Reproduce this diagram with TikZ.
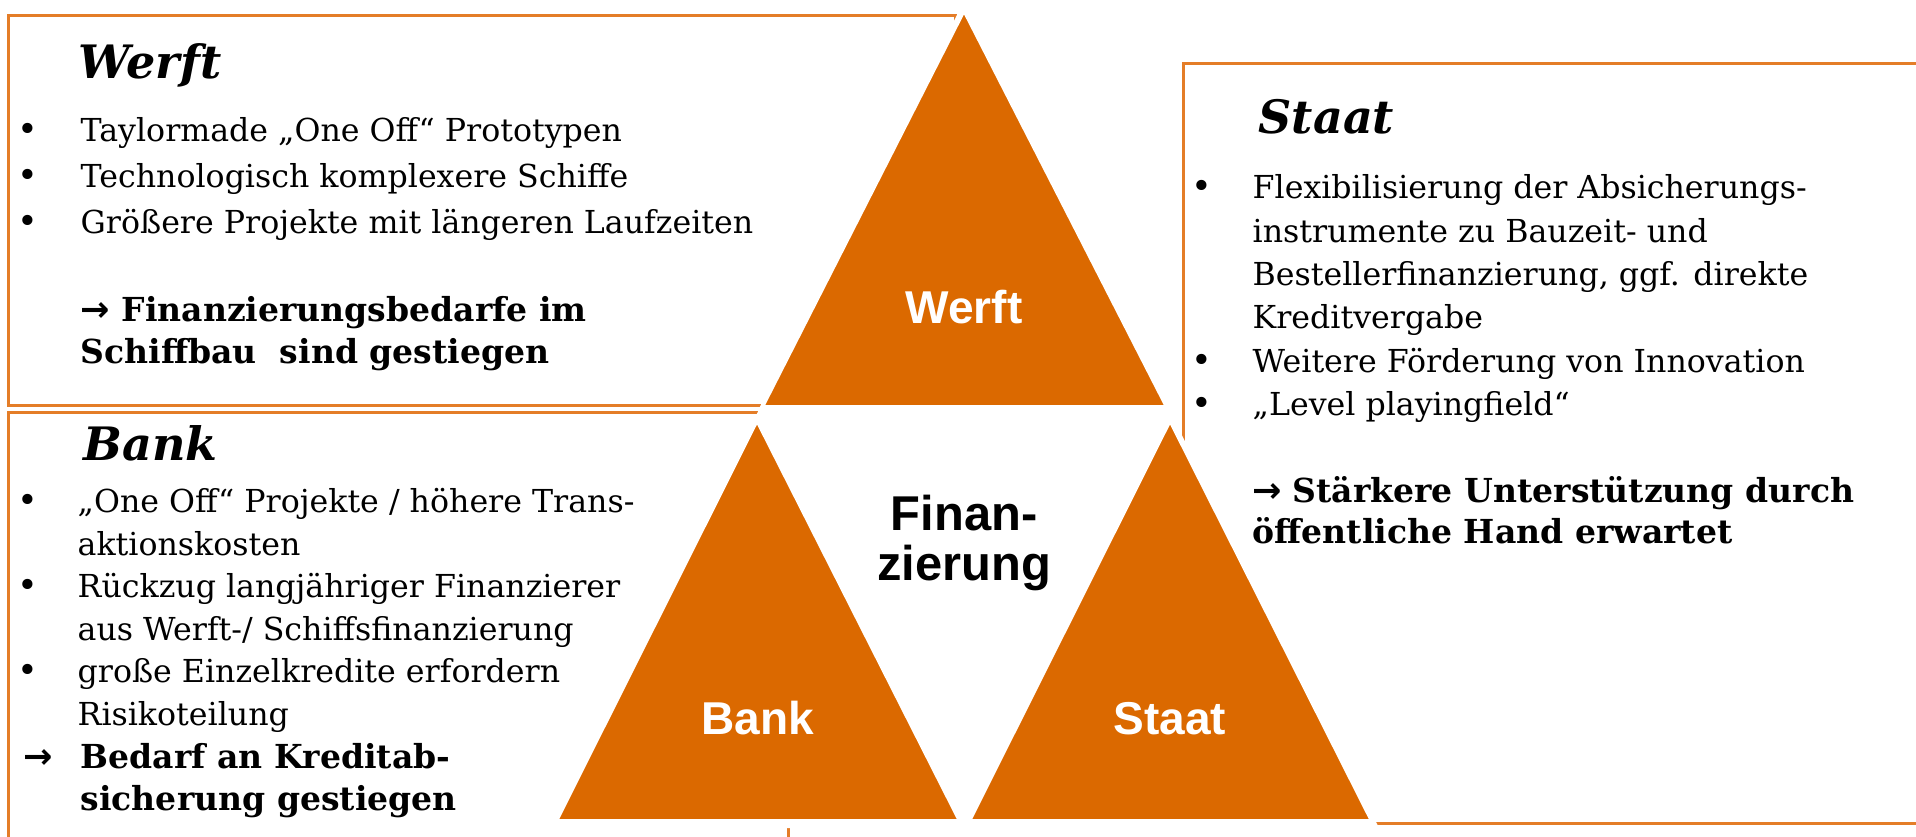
\documentclass[tikz,border=0pt]{standalone}
\usepackage{fontspec}
\setmainfont{DejaVu Serif}
\setsansfont{Liberation Sans}
\newfontfamily\arrowfont{DejaVu Sans}
\usetikzlibrary{positioning}

\definecolor{dockorange}{RGB}{219,105,0}
\definecolor{boxline}{RGB}{228,125,40}

\newcommand{\pfeil}{{\arrowfont\bfseries\fontsize{10}{12}\selectfont →}}

\tikzset{
  frame/.style={draw=boxline, line width=0.3mm},
  wedge/.style={fill=dockorange, draw=white, line width=0.4mm},
  heading/.style={anchor=base west, inner sep=0pt, font=\fontsize{13.1}{15}\selectfont\bfseries\itshape},
  txt/.style={anchor=base west, inner sep=0pt, font=\fontsize{9.0}{12}\selectfont},
  boldtxt/.style={anchor=base west, inner sep=0pt, font=\fontsize{9.4}{12}\selectfont\bfseries},
  dot/.style={anchor=base, inner sep=0pt, font=\fontsize{10}{12}\selectfont},
  wedgetext/.style={anchor=base, inner sep=0pt, text=white, font=\sffamily\bfseries\fontsize{13.1}{14}\selectfont}
}

\begin{document}
\begin{tikzpicture}[x=0.1mm, y=-0.1mm]
\useasboundingbox (0,0) rectangle (1916,836);
\clip (0,0) rectangle (1916,836);

% frames of the three text panels
\draw[frame] (8,15) rectangle (955,405);
\draw[frame] (8,412) rectangle (788,880);
\draw[frame] (1183,63) rectangle (1960,823);

% white ground of the pyramid hides the frame edges
\fill[white] (964,1) -- (549,828) -- (1379,828) -- cycle;

% the three triangles
\draw[wedge] (964,10) -- (762,407) -- (1167,407) -- cycle;
\draw[wedge] (757,420) -- (556,821) -- (960,821) -- cycle;
\draw[wedge] (1170,420) -- (969,821) -- (1372,821) -- cycle;

\node[wedgetext] (tw) at (964,323) {Werft};
\node[wedgetext] (tb) at (758,734) {Bank};
\node[wedgetext] (ts) at (1170,734) {Staat};
\node[wedgetext, text=black, font=\sffamily\bfseries\fontsize{13.9}{14}\selectfont] (fin1) at (964,530) {Finan-};
\node[wedgetext, text=black, font=\sffamily\bfseries\fontsize{13.9}{14}\selectfont] (fin2) at (964,580) {zierung};

% Werft panel
\node[heading] (hw) at (78,78) {Werft};
\node[dot] (dw1) at (28,141) {\textbullet};
\node[dot] (dw2) at (28,187) {\textbullet};
\node[dot] (dw3) at (28,233) {\textbullet};
\node[txt] (w1) at (80,141) {Taylormade „One Off“ Prototypen};
\node[txt] (w2) at (80,187) {Technologisch komplexere Schiffe};
\node[txt] (w3) at (80,233) {Größere Projekte mit längeren Laufzeiten};
\node[boldtxt] (w4) at (80,321) {\pfeil{} Finanzierungsbedarfe im};
\node[boldtxt] (w5) at (80,363) {Schiffbau\ \ sind gestiegen};

% Bank panel
\node[heading] (hb) at (83,460) {Bank};
\node[dot] (db1) at (28,512) {\textbullet};
\node[dot] (db2) at (28,597) {\textbullet};
\node[dot] (db3) at (28,682) {\textbullet};
\node[txt] (b1) at (77,512) {„One Off“ Projekte / höhere Trans-};
\node[txt] (b2) at (77,555) {aktionskosten};
\node[txt] (b3) at (77,597) {Rückzug langjähriger Finanzierer};
\node[txt] (b4) at (77,640) {aus Werft-/ Schiffsfinanzierung};
\node[txt] (b5) at (77,682) {große Einzelkredite erfordern};
\node[txt] (b6) at (77,725) {Risikoteilung};
\node[boldtxt] (db4) at (23,768) {\pfeil};
\node[boldtxt] (b7) at (80,768) {Bedarf an Kreditab-};
\node[boldtxt] (b8) at (80,810) {sicherung gestiegen};

% Staat panel
\node[heading] (hs) at (1258,133) {Staat};
\node[dot] (ds1) at (1202,198) {\textbullet};
\node[dot] (ds2) at (1202,372) {\textbullet};
\node[dot] (ds3) at (1202,415) {\textbullet};
\node[txt] (s1) at (1252,198) {Flexibilisierung der Absicherungs-};
\node[txt] (s2) at (1252,242) {instrumente zu Bauzeit- und};
\node[txt] (s3) at (1252,285) {Bestellerfinanzierung, ggf. direkte};
\node[txt] (s4) at (1252,328) {Kreditvergabe};
\node[txt] (s5) at (1252,372) {Weitere Förderung von Innovation};
\node[txt] (s6) at (1252,415) {„Level playingfield“};
\node[boldtxt] (ds4) at (1252,502) {\pfeil};
\node[boldtxt] (s7) at (1292,502) {Stärkere Unterstützung durch};
\node[boldtxt] (s8) at (1252,543) {öffentliche Hand erwartet};
\end{tikzpicture}
\end{document}
